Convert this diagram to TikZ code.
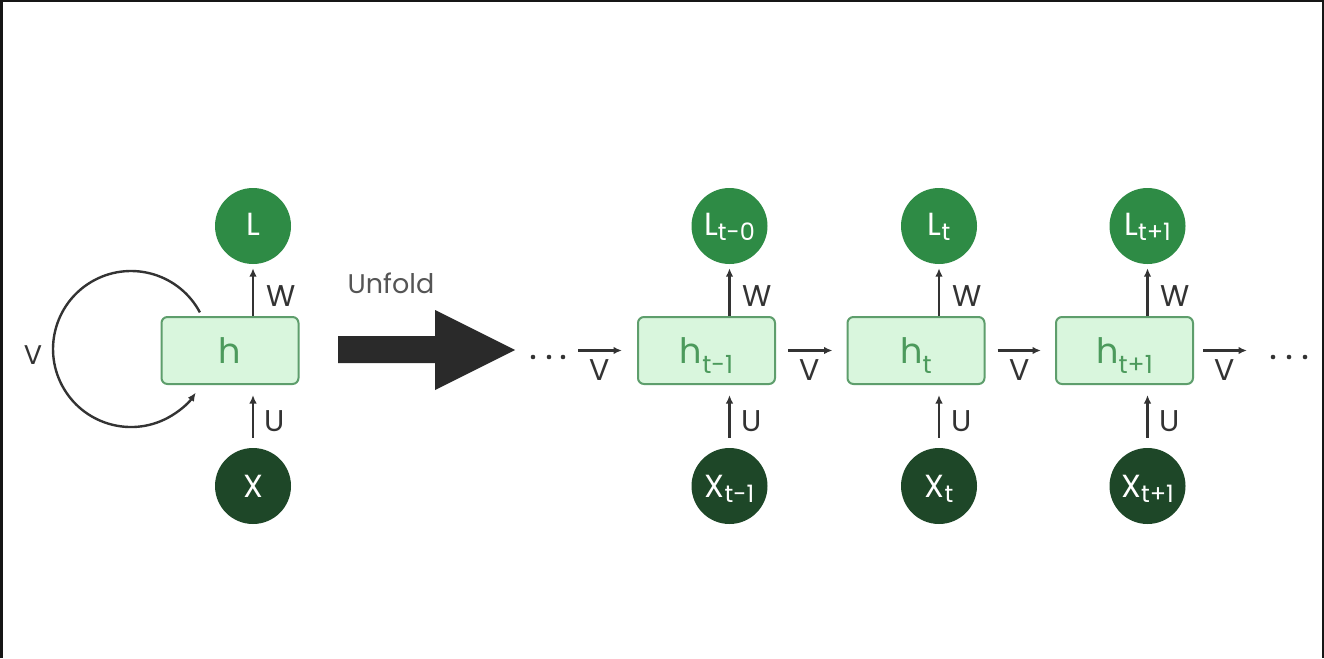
\documentclass[tikz,border=0pt]{standalone}
\usepackage{fontspec}
\setmainfont{Poppins}
\usetikzlibrary{arrows.meta}
\definecolor{lgreen}{HTML}{2E8B45}
\definecolor{dgreen}{HTML}{1E4728}
\definecolor{boxfill}{HTML}{D9F6DD}
\definecolor{boxdraw}{HTML}{5E9E6C}
\definecolor{boxtext}{HTML}{4C9A5C}
\definecolor{ink}{HTML}{333333}
\definecolor{bigarrow}{HTML}{2A2A2A}
\definecolor{frame}{HTML}{161616}
\definecolor{graytext}{HTML}{555555}
\newcommand\fs[1]{\fontsize{#1}{#1}\selectfont}
\newcommand\boxsub[1]{\raisebox{-10pt}{\fs{25}#1}}
\newcommand\circsub[1]{\raisebox{-5pt}{\fs{24}#1}}
\tikzset{
  hbox/.style={draw=boxdraw, fill=boxfill, line width=2pt, rounded corners=6pt,
    minimum width=137pt, minimum height=67pt, inner sep=0pt, text=boxtext,
    font=\fs{35}, text height=25pt, text depth=0pt},
  lnode/.style={circle, fill=lgreen, minimum size=76pt, inner sep=0pt, text=white,
    font=\fs{32}, text height=18pt, text depth=0pt},
  xnode/.style={lnode, fill=dgreen, text height=22pt},
  arr/.style={draw=ink, line width=2.4pt, -{Latex[length=8.5pt,width=7.5pt]}},
  lab/.style={text=ink, font=\fs{30}, inner sep=0pt},
  dotmark/.style={circle, fill=ink, inner sep=0pt, minimum size=4.6pt}
}
\begin{document}
\begin{tikzpicture}[x=1pt,y=-1pt]
\useasboundingbox (0,0) rectangle (1324,658);
\fill[white] (0,0) rectangle (1324,658);
\draw[frame, line width=2.5pt] (1.25,658) -- (1.25,1.25) -- (1322.75,1.25) -- (1322.75,658);

% folded network
\node[hbox] (h0) at (230,350.5) {h};
\node[lnode] (L0) at (253,226) {L};
\node[xnode] (X0) at (253,486) {X};
\draw[arr, shorten >=4pt] (h0.north -| L0) -- (L0.south);
\draw[arr, shorten <=10pt, shorten >=10pt] (X0.north) -- (h0.south -| X0);
\node[lab, anchor=west] (w0) at (266,296) {W};
\node[lab, anchor=west] (u0) at (264,421) {U};
\coordinate (loopstart) at (199.9,312.4);
\draw[arr] (loopstart) arc[start angle=-28, end angle=-326, radius=78];
\node[lab, font=\fs{27}] (v0) at (33,355) {V};

% unfold arrow
\node[text=graytext, font=\fs{27}, inner sep=0pt] (unfold) at (391,283) {Unfold};
\fill[bigarrow] (338,336) -- (435,336) -- (435,310) -- (515,350) -- (435,390) -- (435,363) -- (338,363) -- cycle;

% unfolded network
\node[hbox] (h1) at (706.5,350.5) {h\boxsub{t-1}};
\node[hbox] (h2) at (916,350.5) {h\boxsub{t}};
\node[hbox] (h3) at (1124.5,350.5) {h\boxsub{t+1}};
\node[lnode] (L1) at (729.5,226) {L\circsub{t-0}};
\node[lnode] (L2) at (939,226) {L\circsub{t}};
\node[lnode] (L3) at (1147.5,226) {L\circsub{t+1}};
\node[xnode] (X1) at (729.5,486) {X\circsub{t-1}};
\node[xnode] (X2) at (939,486) {X\circsub{t}};
\node[xnode] (X3) at (1147.5,486) {X\circsub{t+1}};
\foreach \i in {1,2,3}{
  \draw[arr, shorten >=4pt] (h\i.north -| L\i) -- (L\i.south);
  \draw[arr, shorten <=10pt, shorten >=10pt] (X\i.north) -- (h\i.south -| X\i);
}
\node[lab, anchor=west] (w1) at (742,296) {W};
\node[lab, anchor=west] (w2) at (952,296) {W};
\node[lab, anchor=west] (w3) at (1160,296) {W};
\node[lab, anchor=west] (u1) at (741,421) {U};
\node[lab, anchor=west] (u2) at (951,421) {U};
\node[lab, anchor=west] (u3) at (1159,421) {U};

\coordinate (in) at (578,350.5);
\coordinate (out) at (1247,350.5);
\draw[arr, shorten >=15pt] (in) -- (h1.west);
\draw[arr, shorten <=12pt, shorten >=14pt] (h1.east) -- (h2.west);
\draw[arr, shorten <=12pt, shorten >=14pt] (h2.east) -- (h3.west);
\draw[arr, shorten <=9pt] (h3.east) -- (out);
\node[lab] (v1) at (600,370) {V};
\node[lab] (v2) at (810,370) {V};
\node[lab] (v3) at (1020,370) {V};
\node[lab] (v4) at (1225,370) {V};

\foreach \x [count=\k] in {533,549,563}{\node[dotmark] (dl\k) at (\x,357) {};}
\foreach \x [count=\k] in {1273,1289,1305}{\node[dotmark] (dr\k) at (\x,357) {};}
\end{tikzpicture}
\end{document}
